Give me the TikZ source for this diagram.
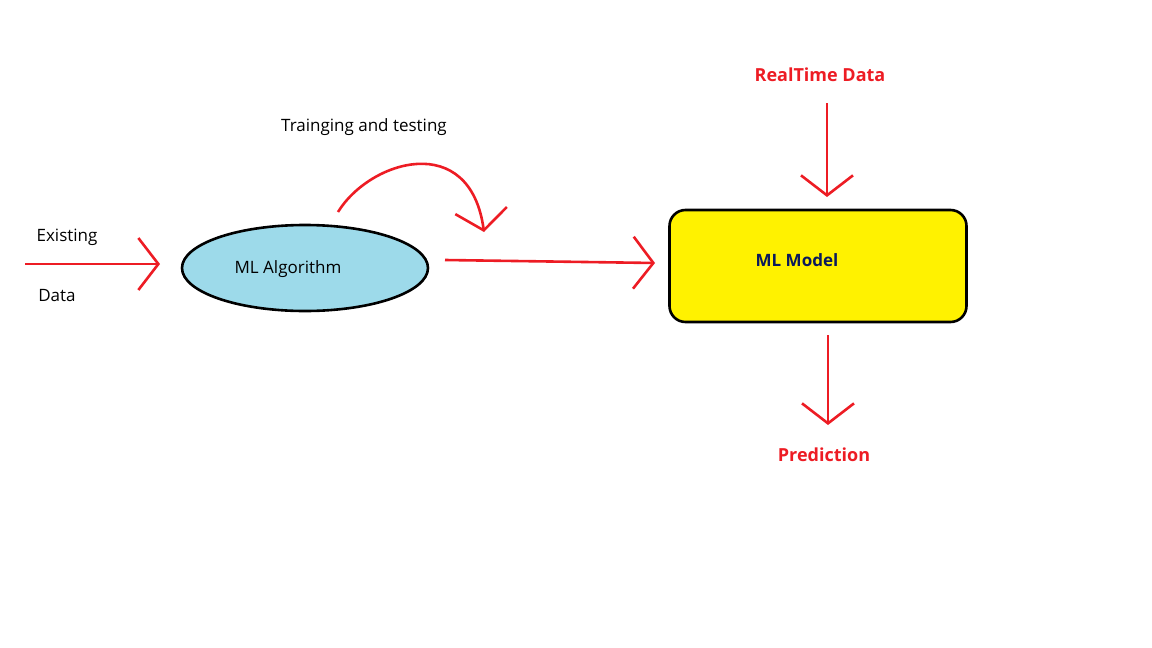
\documentclass[tikz,border=0pt]{standalone}
\usepackage{fontspec}
\setmainfont{Open Sans}
\usetikzlibrary{arrows.meta,shapes.geometric}
\definecolor{algoblue}{HTML}{9DDAEA}
\definecolor{modelyellow}{HTML}{FFF200}
\definecolor{flowred}{HTML}{ED1C24}
\definecolor{navytext}{HTML}{0A1A5C}
\tikzset{
  flow/.style={draw=flowred, line width=2.6pt,
    -{Straight Barb[length=20pt,width=52pt,line width=2.6pt]}},
  lbl/.style={font=\fontsize{17}{20}\selectfont, inner sep=0pt},
  redlbl/.style={lbl, text=flowred, font=\fontsize{18}{20}\selectfont\bfseries}
}
\begin{document}
\begin{tikzpicture}[x=1pt,y=-1pt]
  \useasboundingbox (0,0) rectangle (1152,648);

  % Knoten
  \node[ellipse, draw, line width=2.6pt, fill=algoblue,
        minimum width=246pt, minimum height=86pt] (algo) at (305,268) {};
  \node[lbl] (algotxt) at (288,269) {ML Algorithm};
  \node[draw, line width=2.6pt, fill=modelyellow, rounded corners=16pt,
        minimum width=297pt, minimum height=112pt] (model) at (818,266) {};
  \node[lbl, text=navytext, font=\fontsize{17}{20}\selectfont\bfseries] (modeltxt) at (797,260) {ML Model};

  % Beschriftungen
  \node[lbl] (exist) at (67,237) {Existing};
  \node[lbl] (data) at (57,296) {Data};
  \node[lbl] (train) at (364,127) {Trainging and testing};
  \node[redlbl] (rt) at (820,75) {RealTime Data};
  \node[redlbl] (pred) at (824,455) {Prediction};

  % Hilfspunkte
  \coordinate (inStart) at (25,264);
  \coordinate (inEnd) at (160,264);
  \coordinate (outStart) at (445,260);
  \coordinate (outEnd) at (655,263);
  \coordinate (loopStart) at (338,212);
  \coordinate (loopEnd) at (484,232);
  \coordinate (rtStart) at (827,103);
  \coordinate (rtEnd) at (827,197);
  \coordinate (predStart) at (828,335);
  \coordinate (predEnd) at (828,425);

  % Pfeile
  \draw[flow] (inStart) -- (inEnd);
  \draw[flow] (outStart) -- (outEnd);
  \draw[flow] (loopStart) .. controls (370,160) and (470,130) .. (loopEnd);
  \draw[flow] (rtStart) -- (rtEnd);
  \draw[flow] (predStart) -- (predEnd);
\end{tikzpicture}
\end{document}
